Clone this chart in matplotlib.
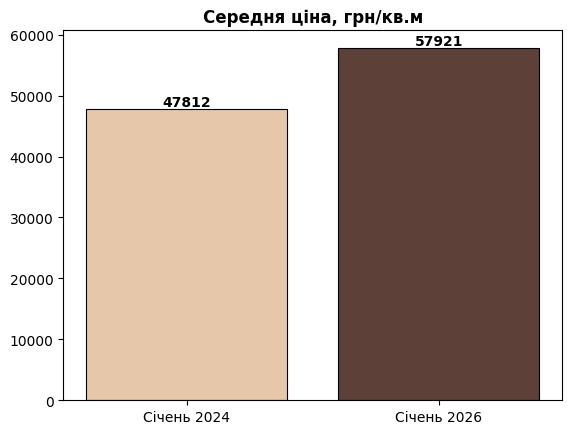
import matplotlib
matplotlib.use("Agg")
import matplotlib.pyplot as plt

periods = ["Січень 2024", "Січень 2026"]
prices = [47812, 57921]
colors = ["#E6C7A9", "#5D4037"]

fig, ax = plt.subplots(figsize=(5.69, 4.35), dpi=100)
fig.subplots_adjust(left=0.111, right=0.988, bottom=0.078, top=0.929)

bars = ax.bar(periods, prices, color=colors, edgecolor="black", linewidth=0.8)

# підписи над стовпцями
for bar, val in zip(bars, prices):
    ax.text(bar.get_x() + bar.get_width() / 2, bar.get_height(), str(val),
            ha="center", va="bottom", fontweight="bold", fontsize=10)

ax.set_title("Середня ціна, грн/кв.м", fontweight="bold", fontsize=12)

fig.savefig("out.png", dpi=100)
